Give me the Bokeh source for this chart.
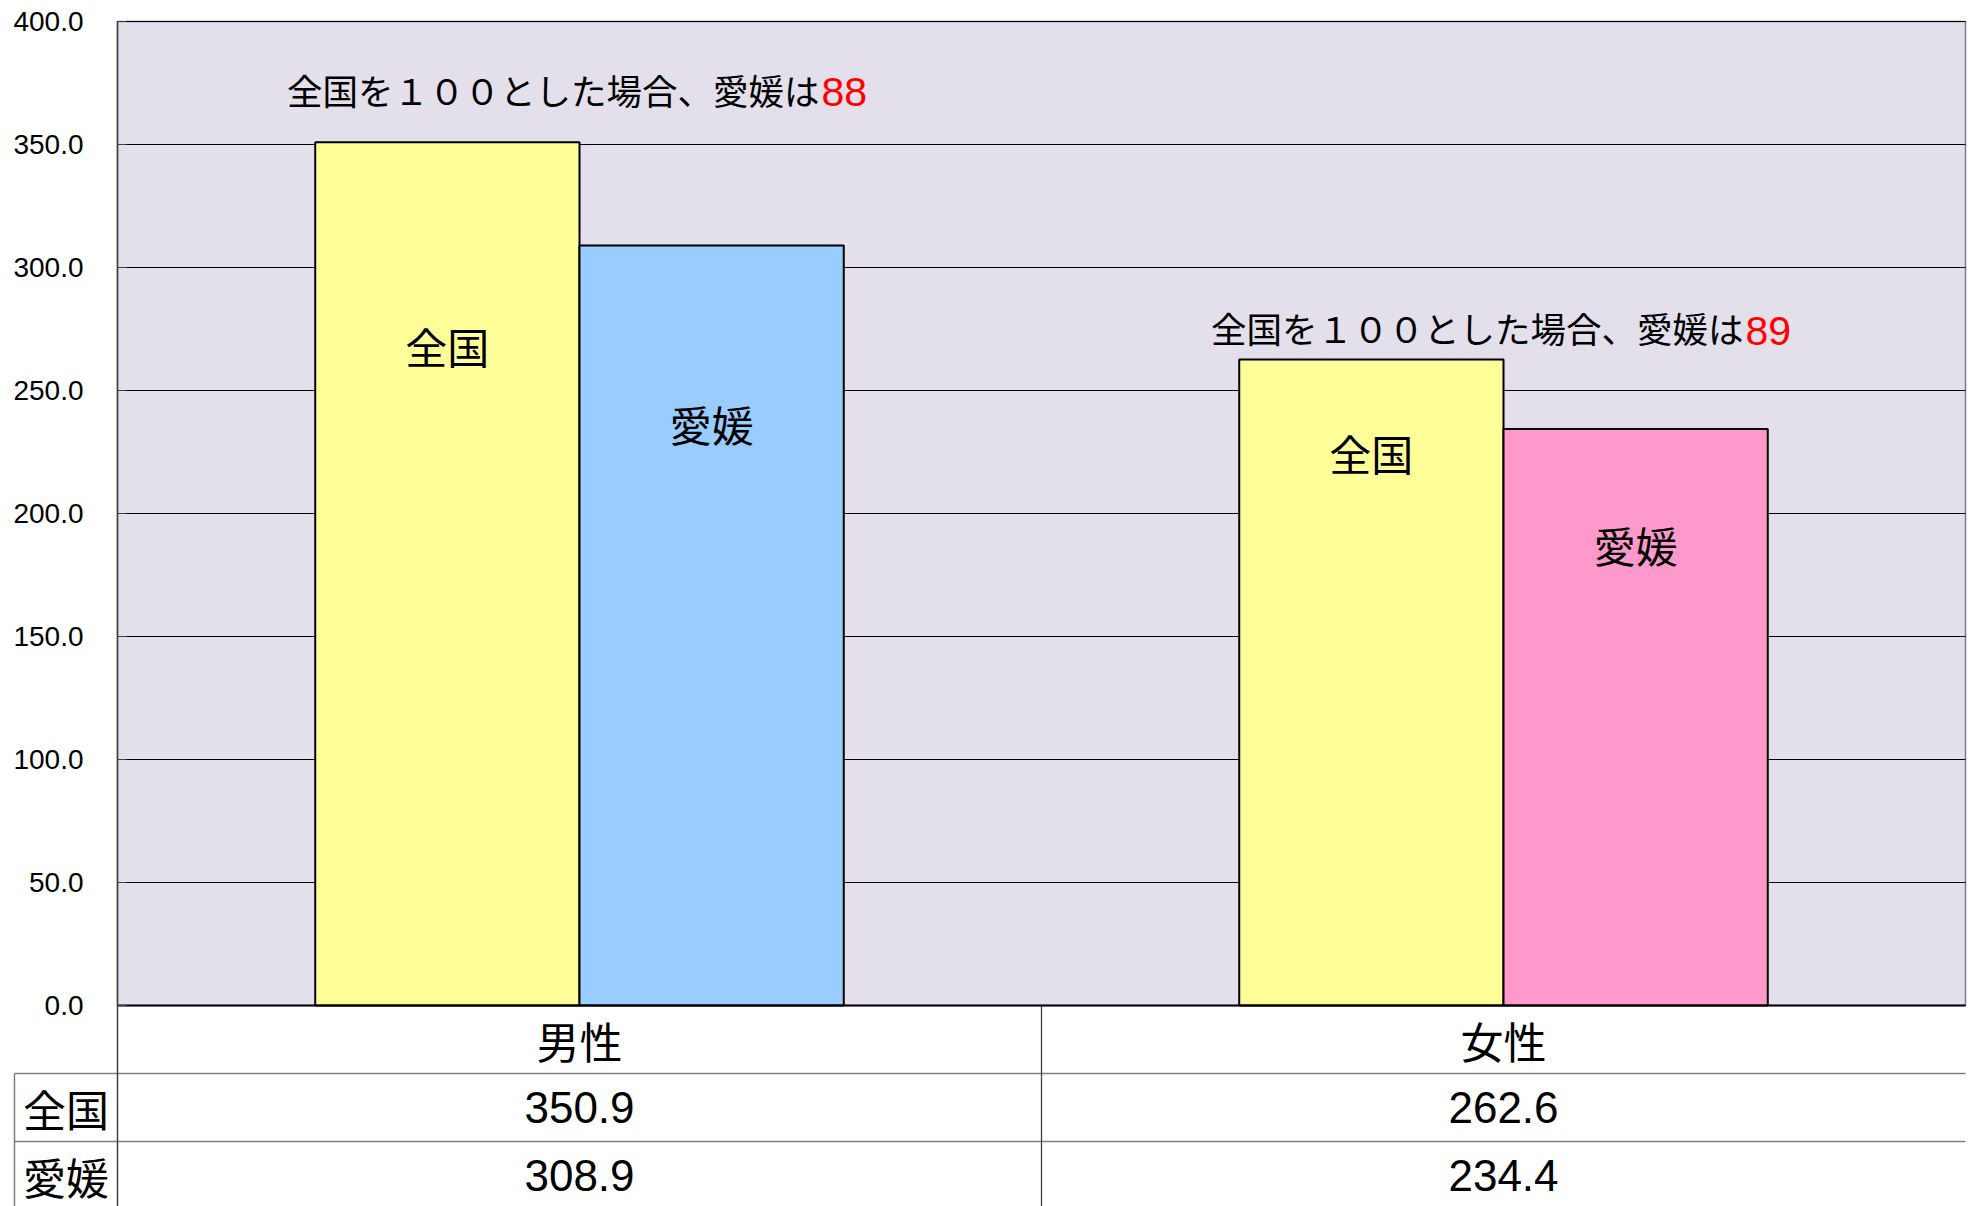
from bokeh.plotting import figure
from bokeh.models import ColumnDataSource, Range1d, FixedTicker, NumeralTickFormatter
from bokeh.transform import dodge
from bokeh.embed import file_html
from bokeh.resources import INLINE
from bokeh.core.properties import value

# ---------------- data ----------------
categories = ["男性", "女性"]
series_names = ["全国", "愛媛"]
national = [350.9, 262.6]
ehime = [308.9, 234.4]
y_ticks = [0, 50, 100, 150, 200, 250, 300, 350, 400]
note_prefix = "全国を１００とした場合、愛媛は"

# ---------------- styles / layout ----------------
nat_color = "#FFFF99"
ehime_colors = ["#99CCFF", "#FF99CC"]
bg = "#E3DFEB"
JP = "Noto Sans CJK JP"
NUM = "Liberation Sans"

W, H = 1968, 1206
PLOT_LEFT, PLOT_RIGHT = 117, 1965     # page x of the chart area
PLOT_TOP, PLOT_BOTTOM = 21, 1005      # page y of 400 and 0
TABLE_LEFT = 14                       # page x of the table's label column
FRAME_LEFT = 12
Y_MAX = 400
ROW_H = 68
BAR_W = 0.286
# pixel offsets of in-bar labels below bar tops, and of the notes above the national bars
nat_lab_dy = [203, 93]
eh_lab_dy = [178, 116]
note_dy = [-53, -32]

n = len(categories)
px_x = (PLOT_RIGHT - PLOT_LEFT) / n
px_y = (PLOT_BOTTOM - PLOT_TOP) / Y_MAX
x_start = -(PLOT_LEFT - FRAME_LEFT) / px_x
x_end = n + (W - PLOT_RIGHT) / px_x
y_bottom = -(H - PLOT_BOTTOM) / px_y
y_top = Y_MAX + PLOT_TOP / px_y
label_left = -(PLOT_LEFT - TABLE_LEFT) / px_x
label_center = label_left / 2

cx = [i + 0.5 for i in range(n)]
index_vals = [str(round(e / nv * 100)) for e, nv in zip(ehime, national)]

src = ColumnDataSource(dict(
    cx=cx, national=national, ehime=ehime, ecol=ehime_colors,
    nat_name=[series_names[0]] * n, eh_name=[series_names[1]] * n,
    nat_dy=nat_lab_dy, eh_dy=eh_lab_dy, note_dy=note_dy,
    red_dy=[d + 3 for d in note_dy],
    note=[note_prefix] * n, idx=index_vals,
))

p = figure(x_range=Range1d(x_start, x_end), y_range=Range1d(y_bottom, y_top),
           width=W, height=H, output_backend="svg", toolbar_location=None,
           x_axis_location=None, min_border_left=FRAME_LEFT, min_border_right=0,
           min_border_top=0, min_border_bottom=0,
           background_fill_color="white", border_fill_color="white",
           outline_line_color=None)

# chart area background with its grey border
p.quad(left=[0], right=[n], bottom=[0], top=[Y_MAX], fill_color=bg,
       line_color="#7f7f7f", line_width=1.5, level="image")

ax = p.yaxis[0]
ax.fixed_location = 0
ax.bounds = (y_bottom, Y_MAX)
ax.ticker = FixedTicker(ticks=y_ticks)
ax.formatter = NumeralTickFormatter(format="0.0")
ax.major_label_text_font = NUM
ax.major_label_text_font_size = "28px"
ax.major_label_text_color = "black"
ax.major_label_standoff = 34
ax.major_tick_in = 9
ax.major_tick_out = 0
ax.major_tick_line_color = "#404040"
ax.minor_tick_line_color = None
ax.axis_line_color = "#404040"
ax.axis_line_width = 1.5
p.ygrid.ticker = FixedTicker(ticks=y_ticks)
p.ygrid.bounds = (0, Y_MAX)
p.ygrid.cross_bounds = (0, n)
p.ygrid.grid_line_color = "black"
p.ygrid.grid_line_width = 1
p.xgrid.visible = False

p.vbar(x=dodge("cx", -BAR_W / 2), top="national", width=BAR_W,
       fill_color=nat_color, line_color="black", line_width=2, source=src)
p.vbar(x=dodge("cx", BAR_W / 2), top="ehime", width=BAR_W,
       fill_color="ecol", line_color="black", line_width=2, source=src)

p.text(x=dodge("cx", -BAR_W / 2), y="national", text="nat_name",
       y_offset="nat_dy", text_align="center", text_baseline="middle",
       text_font=value(JP), text_font_size="42px", text_color="black", source=src)
p.text(x=dodge("cx", BAR_W / 2), y="ehime", text="eh_name",
       y_offset="eh_dy", text_align="center", text_baseline="middle",
       text_font=value(JP), text_font_size="42px", text_color="black", source=src)

p.text(x="cx", y="national", text="note", x_offset=240, y_offset="note_dy",
       text_align="right", text_baseline="middle",
       text_font=value(JP), text_font_size="35.5px", text_color="black", source=src)
p.text(x="cx", y="national", text="idx", x_offset=242, y_offset="red_dy",
       text_align="left", text_baseline="middle",
       text_font=value(NUM), text_font_size="41px", text_color="#FF0000", source=src)

# ---------------- data table below the chart ----------------
def row_y(k):
    return -k * ROW_H / px_y


rows = [1, 2]
p.segment(x0=[label_left] * len(rows), x1=[n] * len(rows),
          y0=[row_y(k) for k in rows], y1=[row_y(k) for k in rows],
          line_color="#808080", line_width=1.5)
p.segment(x0=list(range(1, n)), x1=list(range(1, n)), y0=[0] * (n - 1), y1=[y_bottom] * (n - 1),
          line_color="#404040", line_width=1.3)
p.segment(x0=[label_left], x1=[label_left], y0=[row_y(1)], y1=[y_bottom],
          line_color="#808080", line_width=1.5)
p.segment(x0=[0], x1=[n], y0=[0], y1=[0], line_color="black", line_width=2)

p.text(x=cx, y=[row_y(0.5)] * n, text=categories, text_align="center", text_baseline="middle",
       text_font=value(JP), text_font_size="43px", text_color="black")
p.text(x=cx, y=[row_y(1.5)] * n, text=[f"{v:.1f}" for v in national], text_align="center",
       text_baseline="middle", text_font=value(NUM), text_font_size="44px", text_color="black")
p.text(x=cx, y=[row_y(2.5)] * n, text=[f"{v:.1f}" for v in ehime], text_align="center",
       text_baseline="middle", text_font=value(NUM), text_font_size="44px", text_color="black")
p.text(x=[label_center] * 2, y=[row_y(1.5), row_y(2.5)], text=series_names, text_align="center",
       text_baseline="middle", text_font=value(JP), text_font_size="43px", text_color="black")

open("out.html", "w").write(file_html(p, INLINE))
